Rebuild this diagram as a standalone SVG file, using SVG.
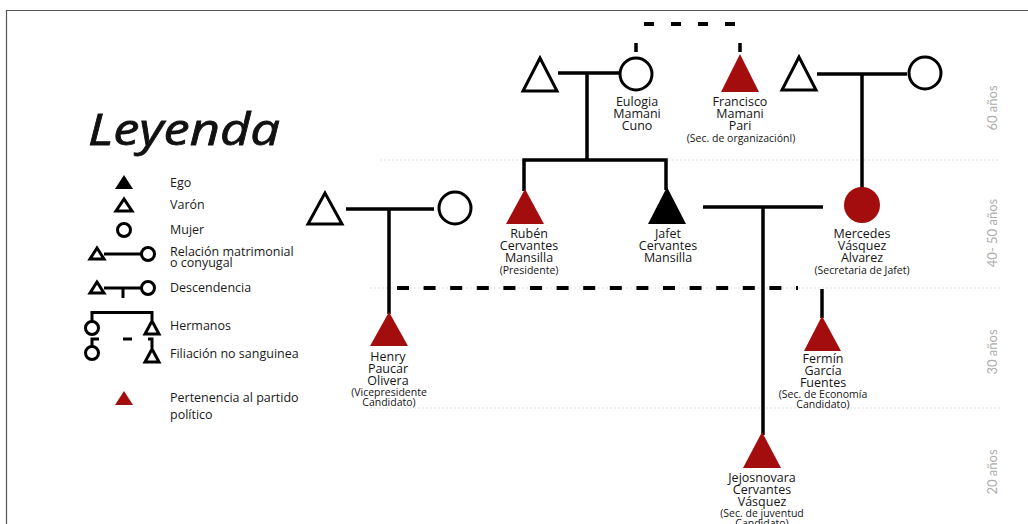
<svg xmlns="http://www.w3.org/2000/svg" width="1028" height="524" viewBox="0 0 1028 524">
<style>
.ln{stroke:#000;stroke-width:3.5;fill:none}
.dash{stroke:#000;stroke-width:4;fill:none}
.out{fill:#fff;stroke:#000;stroke-width:3}
.red{fill:#a30d0d}
.blk{fill:#000}
.guide{stroke:#e2e2e2;stroke-width:1.2;stroke-dasharray:2 2}
.nm{font-family:"Open Sans","Noto Sans",sans-serif;font-size:12.5px;fill:#151515;text-anchor:middle}
.sm{font-size:10.5px}
.lg{font-family:"Open Sans","Noto Sans",sans-serif;font-size:12.5px;fill:#1a1a1a}
.age{font-family:"Lato","Noto Sans",sans-serif;font-size:13px;fill:#adadad;text-anchor:middle}
.lgl{stroke:#000;stroke-width:3;fill:none}
.lgo{fill:#fff;stroke:#000;stroke-width:3}
</style>
<rect width="1028" height="524" fill="#fff"/>
<path d="M6.5,524 V10.5 H1028" fill="none" stroke="#555" stroke-width="1.2"/>

<g id="guides">
<line class="guide" x1="380" y1="160" x2="1000" y2="160"/>
<line class="guide" x1="370" y1="288" x2="1000" y2="288"/>
<line class="guide" x1="370" y1="408" x2="1000" y2="408"/>
</g>

<g id="ages">
<text class="age" transform="translate(997,108) rotate(-90)">60 años</text>
<text class="age" transform="translate(997,233) rotate(-90)">40- 50 años</text>
<text class="age" transform="translate(997,352) rotate(-90)">30 años</text>
<text class="age" transform="translate(997,472) rotate(-90)">20 años</text>
</g>

<g id="legend">
<text x="88" y="145" font-family="'Open Sans','DejaVu Sans',sans-serif" font-style="italic" font-size="44" fill="#111" stroke="#111" stroke-width="0.8" textLength="192" lengthAdjust="spacingAndGlyphs">Leyenda</text>
<polygon class="blk" points="124,175 115,189 133,189"/>
<text class="lg" x="170" y="187">Ego</text>
<polygon class="lgo" points="124,199 116,211 132,211"/>
<text class="lg" x="170" y="209">Varón</text>
<circle class="lgo" cx="124" cy="230" r="6.5"/>
<text class="lg" x="170" y="234">Mujer</text>
<polygon class="lgo" points="97,248 90,259 104,259"/>
<line class="lgl" x1="104" y1="254" x2="142" y2="254"/>
<circle class="lgo" cx="148" cy="254" r="6.5"/>
<text class="lg" x="170" y="256">Relación matrimonial<tspan x="170" dy="10.5">o conyugal</tspan></text>
<polygon class="lgo" points="97,282 90,293 104,293"/>
<line class="lgl" x1="104" y1="288" x2="142" y2="288"/>
<line class="lgl" x1="123" y1="288" x2="123" y2="298"/>
<circle class="lgo" cx="148" cy="288" r="6.5"/>
<text class="lg" x="170" y="292">Descendencia</text>
<path class="lgl" d="M92,322 V312.5 H152 V320"/>
<circle class="lgo" cx="92" cy="328" r="6.5"/>
<polygon class="lgo" points="152,321 145,334 159,334"/>
<text class="lg" x="170" y="330">Hermanos</text>
<path class="lgl" d="M99,339 H92 V347"/>
<circle class="lgo" cx="92" cy="353" r="6.5"/>
<line class="lgl" x1="123" y1="339" x2="132" y2="339"/>
<path class="lgl" d="M148,339 H152 V348"/>
<polygon class="lgo" points="152,349 145,362 159,362"/>
<text class="lg" x="170" y="358">Filiación no sanguinea</text>
<polygon class="red" points="124,391 115,405 133,405"/>
<text class="lg" x="170" y="402">Pertenencia al partido<tspan x="170" dy="17">político</tspan></text>
</g>

<g id="connectors">
<line class="dash" x1="644" y1="24" x2="736" y2="24" stroke-dasharray="10 17"/>
<line class="ln" x1="636" y1="43" x2="636" y2="52"/>
<line class="ln" x1="740" y1="43" x2="740" y2="52"/>
<line class="ln" x1="558" y1="73" x2="619" y2="73"/>
<path class="ln" d="M587,73 V160 M524,191 V160 H666 V190"/>
<line class="ln" x1="817" y1="74" x2="907" y2="74"/>
<line class="ln" x1="862" y1="74" x2="862" y2="188"/>
<line class="ln" x1="346" y1="209" x2="434" y2="209"/>
<line class="ln" x1="389" y1="209" x2="389" y2="314"/>
<line class="ln" x1="703" y1="207" x2="823" y2="207"/>
<line class="ln" x1="763" y1="207" x2="763" y2="435"/>
<line class="dash" x1="397" y1="288" x2="798" y2="288" stroke-dasharray="12 14.6"/>
<line class="ln" x1="822" y1="289" x2="822" y2="318"/>
</g>

<g id="node-eulogia-husband"><polygon class="out" points="540,58 523,91 557,91"/></g>
<g id="node-eulogia">
<circle class="out" cx="636" cy="74" r="16"/>
<text class="nm" x="637" y="106">Eulogia<tspan x="637" dy="12">Mamani</tspan><tspan x="637" dy="12">Cuno</tspan></text>
</g>
<g id="node-francisco">
<polygon class="red" points="740,54 721,92 759,92"/>
<text class="nm" x="740" y="106">Francisco<tspan x="740" dy="12">Mamani</tspan><tspan x="740" dy="12">Pari</tspan><tspan class="sm" x="741" dy="12">(Sec. de organizaciónl)</tspan></text>
</g>
<g id="node-mercedes-father"><polygon class="out" points="799,57 782,90 816,90"/></g>
<g id="node-mercedes-mother"><circle class="out" cx="925" cy="73" r="16"/></g>
<g id="node-ruben">
<polygon class="red" points="525,189 506,224 544,224"/>
<text class="nm" x="529" y="238">Rubén<tspan x="529" dy="12">Cervantes</tspan><tspan x="529" dy="12">Mansilla</tspan><tspan class="sm" x="529" dy="12">(Presidente)</tspan></text>
</g>
<g id="node-jafet">
<polygon class="blk" points="667,187 648,224 686,224"/>
<text class="nm" x="668" y="238">Jafet<tspan x="668" dy="12">Cervantes</tspan><tspan x="668" dy="12">Mansilla</tspan></text>
</g>
<g id="node-mercedes">
<circle class="red" cx="862" cy="205" r="18"/>
<text class="nm" x="862" y="238">Mercedes<tspan x="862" dy="12">Vásquez</tspan><tspan x="862" dy="12">Alvarez</tspan><tspan class="sm" x="862" dy="12">(Secretaria de Jafet)</tspan></text>
</g>
<g id="node-henry-father"><polygon class="out" points="325,193 308,224 342,224"/></g>
<g id="node-henry-mother"><circle class="out" cx="455" cy="208" r="16"/></g>
<g id="node-henry">
<polygon class="red" points="389,312 370,346 408,346"/>
<text class="nm" x="388" y="361">Henry<tspan x="388" dy="12">Paucar</tspan><tspan x="388" dy="12">Olivera</tspan><tspan class="sm" x="389" dy="11">(Vicepresidente</tspan><tspan class="sm" x="389" dy="10">Candidato)</tspan></text>
</g>
<g id="node-fermin">
<polygon class="red" points="822,316 804,351 841,351"/>
<text class="nm" x="823" y="363">Fermín<tspan x="823" dy="12">García</tspan><tspan x="823" dy="12">Fuentes</tspan><tspan class="sm" x="823" dy="11">(Sec. de Economía</tspan><tspan class="sm" x="823" dy="10">Candidato)</tspan></text>
</g>
<g id="node-jejosnovara">
<polygon class="red" points="762,432 743,468 781,468"/>
<text class="nm" x="762" y="482">Jejosnovara<tspan x="762" dy="12">Cervantes</tspan><tspan x="762" dy="12">Vásquez</tspan><tspan class="sm" x="762" dy="11">(Sec. de juventud</tspan><tspan class="sm" x="762" dy="10">Candidato)</tspan></text>
</g>
</svg>
